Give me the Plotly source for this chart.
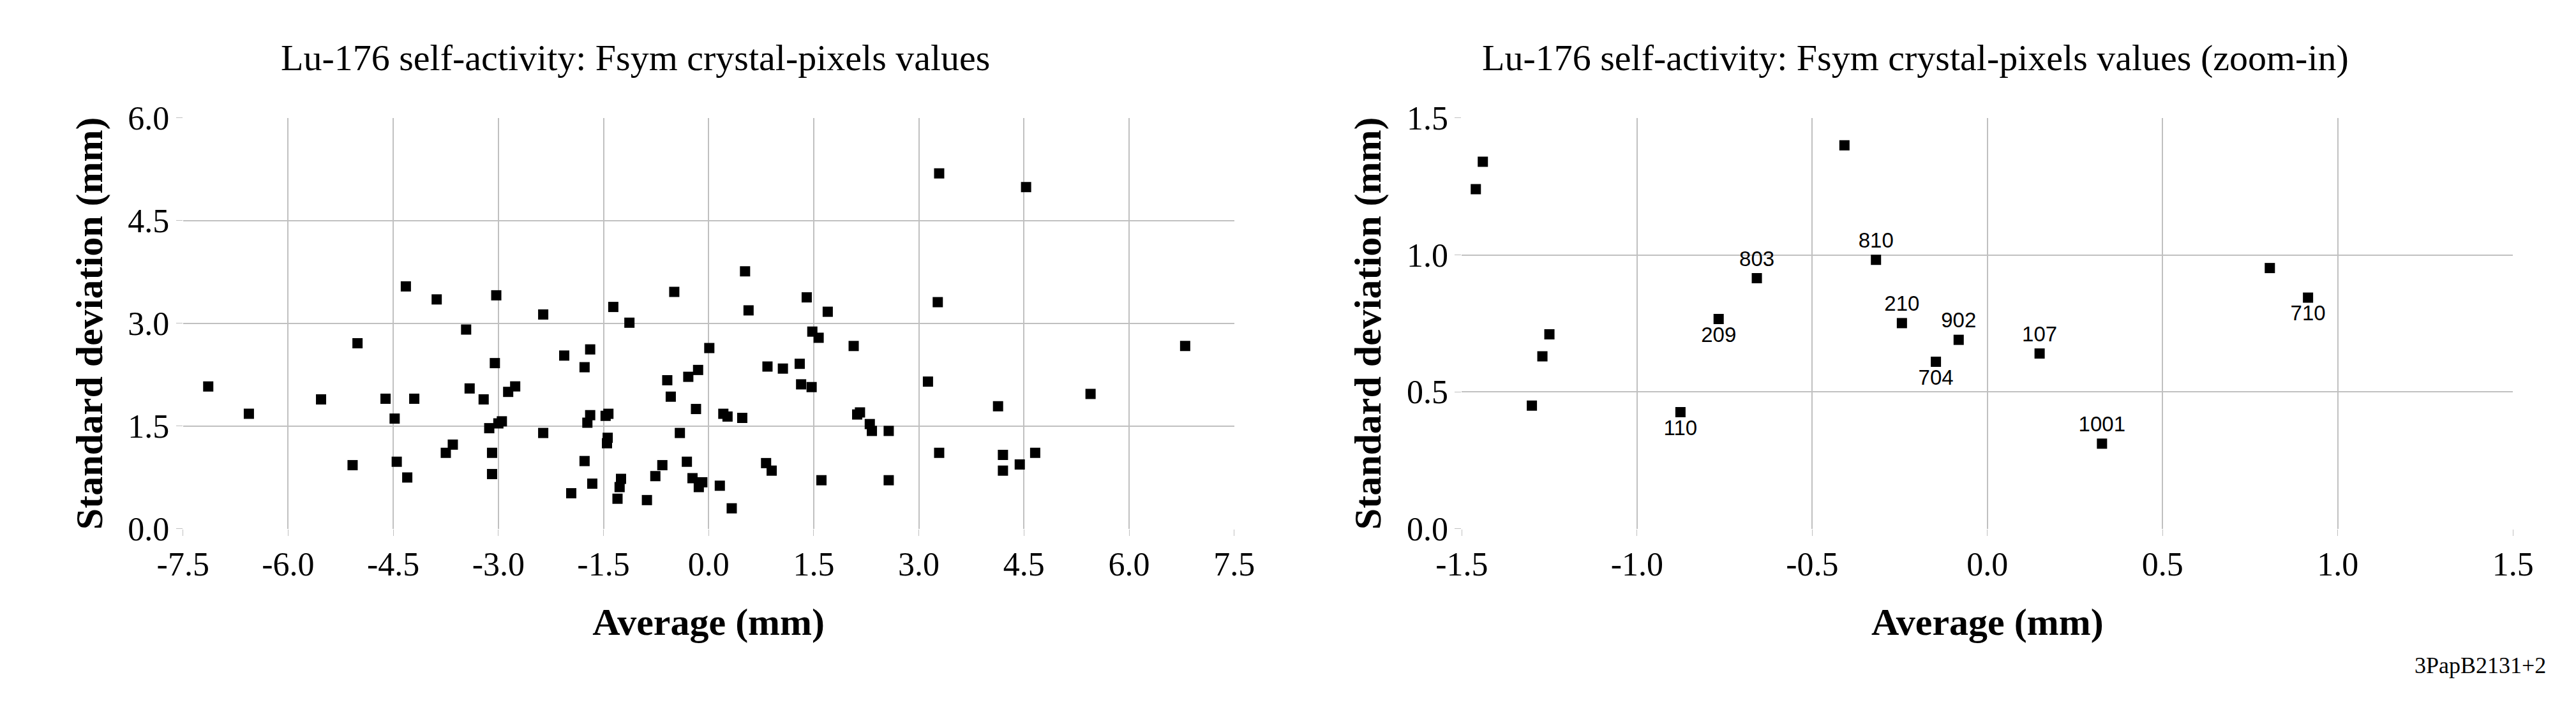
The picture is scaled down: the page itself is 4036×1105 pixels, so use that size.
import plotly.graph_objects as go

left_x = [-7.14,-6.56,-5.53,-5.08,-5.01,-4.61,-4.48,-4.45,-4.32,-4.30,-4.20,-3.88,-3.75,-3.65,-3.46,-3.41,-3.21,-3.13,-3.09,-3.09,-3.05,-3.03,-3.00,-2.95,-2.86,-2.76,-2.36,-2.36,-2.06,-1.96,-1.77,-1.77,-1.73,-1.69,-1.69,-1.66,-1.47,-1.43,-1.45,-1.44,-1.36,-1.30,-1.27,-1.25,-1.13,-0.88,-0.76,-0.66,-0.59,-0.54,-0.49,-0.41,-0.31,-0.29,-0.23,-0.18,-0.15,-0.14,-0.09,0.01,0.16,0.21,0.27,0.33,0.48,0.52,0.57,0.82,0.84,0.90,1.06,1.30,1.32,1.40,1.48,1.47,1.57,1.61,1.70,2.07,2.12,2.16,2.30,2.33,2.57,2.57,3.13,3.27,3.29,3.29,4.13,4.20,4.20,4.44,4.53,4.66,5.45,6.80]
left_y = [2.08,1.68,1.89,0.93,2.71,1.90,1.61,0.98,3.54,0.75,1.90,3.35,1.11,1.23,2.91,2.05,1.89,1.47,1.11,0.80,2.42,3.41,1.54,1.57,2.00,2.08,3.13,1.40,2.53,0.52,0.99,2.36,1.55,2.62,1.66,0.66,1.65,1.68,1.25,1.33,3.24,0.44,0.61,0.73,3.01,0.42,0.77,0.93,2.17,1.93,3.46,1.40,0.98,2.22,0.74,1.75,2.32,0.61,0.68,2.64,0.63,1.68,1.64,0.30,1.62,3.76,3.19,0.96,2.37,0.85,2.34,2.41,2.11,3.38,2.88,2.07,2.79,0.71,3.17,2.67,1.67,1.70,1.53,1.43,1.43,0.71,2.15,3.31,5.19,1.11,1.79,1.08,0.85,0.94,4.99,1.11,1.97,2.67]

right_x = [-1.46,-1.44,-1.30,-1.27,-1.25,-0.876,-0.767,-0.658,-0.408,-0.318,-0.244,-0.147,-0.082,0.149,0.327,0.806,0.915]
right_y = [1.24,1.34,0.45,0.63,0.71,0.426,0.766,0.915,1.40,0.982,0.751,0.610,0.690,0.640,0.311,0.952,0.844]
right_labels = ["","","","","","110","209","803","","810","210","704","902","107","1001","","710"]
label_pos = ["","","","","","bottom center","bottom center","top center","","top center","top center","bottom center","top center","top center","top center","","bottom center"]

left_xticks = [-7.5,-6,-4.5,-3,-1.5,0,1.5,3,4.5,6,7.5]
left_yticks = [0,1.5,3,4.5,6]
right_xticks = [-1.5,-1,-0.5,0,0.5,1,1.5]
right_yticks = [0,0.5,1,1.5]

def fmt(v):
    return f"{v:.1f}"

serif = "Liberation Serif"
fig = go.Figure()
mk = dict(symbol="square", size=16, color="black")
fig.add_trace(go.Scatter(x=left_x, y=left_y, mode="markers", marker=mk, xaxis="x", yaxis="y", showlegend=False))
for pos in ["top center", "bottom center"]:
    idx = [i for i, p in enumerate(label_pos) if p == pos]
    fig.add_trace(go.Scatter(
        x=[right_x[i] for i in idx], y=[right_y[i] for i in idx],
        text=[right_labels[i] for i in idx], mode="markers+text", textposition=pos,
        textfont=dict(family="Liberation Sans", size=33, color="black"),
        marker=mk, xaxis="x2", yaxis="y2", showlegend=False))
idx = [i for i, p in enumerate(label_pos) if p == ""]
fig.add_trace(go.Scatter(x=[right_x[i] for i in idx], y=[right_y[i] for i in idx], mode="markers",
                         marker=mk, xaxis="x2", yaxis="y2", showlegend=False))

ax = dict(showgrid=True, gridcolor="#c0c0c0", gridwidth=2, zeroline=False, showline=False,
          tickfont=dict(family=serif, size=52, color="black"), ticks="outside", ticklen=10, tickcolor="#c0c0c0")
tfont = dict(family=serif, size=60, color="black")
ydom = [0.2434, 0.858]
fig.update_layout(
    width=4036, height=1105, paper_bgcolor="white", plot_bgcolor="white",
    margin=dict(l=0, r=0, t=0, b=0),
    xaxis=dict(ax, domain=[0.06, 0.4757], range=[-7.5, 7.5], tickvals=left_xticks, ticktext=[fmt(v) for v in left_xticks],
               title=dict(text="<b>Average (mm)</b>", font=tfont, standoff=40), anchor="y"),
    yaxis=dict(ax, domain=ydom, range=[0, 6], tickvals=left_yticks, ticktext=[fmt(v) for v in left_yticks],
               title=dict(text="<b>Standard deviation (mm)</b>", font=tfont, standoff=20), anchor="x"),
    xaxis2=dict(ax, domain=[0.5657, 0.9814], range=[-1.5, 1.5], tickvals=right_xticks, ticktext=[fmt(v) for v in right_xticks],
                title=dict(text="<b>Average (mm)</b>", font=tfont, standoff=40), anchor="y2"),
    yaxis2=dict(ax, domain=ydom, range=[0, 1.5], tickvals=right_yticks, ticktext=[fmt(v) for v in right_yticks],
                title=dict(text="<b>Standard deviation (mm)</b>", font=tfont, standoff=20), anchor="x2"),
    annotations=[
        dict(text="Lu-176 self-activity: Fsym crystal-pixels values", x=0.239, y=1-57/1105, xref="paper", yref="paper",
             xanchor="center", showarrow=False, font=dict(family=serif, size=58, color="black"), yanchor="middle"),
        dict(text="Lu-176 self-activity: Fsym crystal-pixels values (zoom-in)", x=0.745, y=1-57/1105, xref="paper", yref="paper",
             xanchor="center", showarrow=False, font=dict(family=serif, size=58, color="black"), yanchor="middle"),
        dict(text="3PapB2131+2", x=0.995, y=1-1062/1105, xref="paper", yref="paper", xanchor="right", yanchor="middle",
             showarrow=False, font=dict(family=serif, size=36, color="black")),
    ])
fig.write_html("out.html")
